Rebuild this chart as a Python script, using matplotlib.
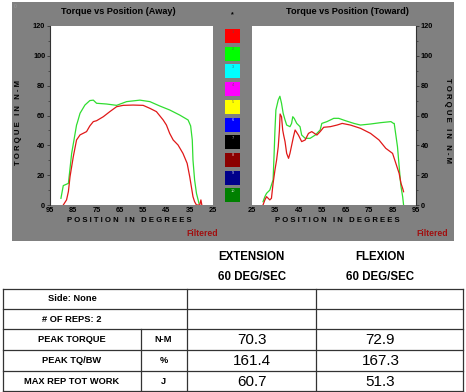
import matplotlib
matplotlib.use("Agg")
import matplotlib.pyplot as plt
from matplotlib.patches import Rectangle

plt.rcParams['font.family'] = ['Liberation Sans', 'DejaVu Sans']

# ---------------- data ----------------
away_green_deg = [90.3, 89.3, 87.1, 85.7, 84.7, 83.6, 83.3, 82.1, 80.0, 77.9, 76.4, 75.0, 70.7, 66.4,
                  62.1, 56.4, 52.1, 47.9, 43.6, 39.3, 35.7, 34.6, 33.9, 33.6, 32.9, 32.1, 31.0]
away_green_trq = [4.5, 13, 14.5, 34.6, 43.6, 53.6, 55, 61.5, 67, 70, 70.3, 68.2, 67.7, 66.8,
                  69.3, 70.3, 69.3, 66.4, 63.7, 60.3, 57, 53, 43.6, 30.2, 16.8, 7.8, 1]
away_red_deg = [89.3, 87.9, 87.1, 86.4, 85.0, 83.6, 82.1, 79.3, 77.9, 76.4, 75.0, 72.1, 69.3, 66.4,
                63.6, 59.3, 55.0, 52.1, 49.3, 46.4, 45.0, 43.6, 42.1, 40.0, 37.9, 36.1, 35.0, 34.3,
                33.6, 32.9, 32.1, 30.7, 30.2, 29.8]
away_red_trq = [0, 3.4, 9, 19, 32.4, 43.6, 47, 49.2, 53, 55.9, 56.5, 59.2, 62.6, 65.9,
                66.8, 67, 66.8, 64.8, 62.6, 57, 53.6, 48, 43.6, 40.2, 34.6, 27.9, 19, 12.3,
                5.6, 2.2, 0, 0, 3.4, 0]

tow_green_deg = [29.7, 30.5, 31.2, 32.6, 34.0, 34.5, 34.8, 35.2, 36.2, 36.9, 37.6, 38.3, 39.1, 39.8,
                 41.2, 41.9, 42.4, 43.0, 44.1, 45.5, 46.2, 47.7, 49.8, 52.0, 54.1, 54.8, 57.0, 59.9,
                 62.0, 64.9, 68.5, 71.3, 75.6, 79.9, 84.3, 85.4, 85.7, 87.1, 88.3, 88.6, 89.3, 89.7]
tow_green_trq = [2.2, 5.6, 7.8, 10, 16.8, 36.9, 50.3, 63.7, 70.4, 72.9, 68.2, 61.5, 57, 53.6,
                 52.5, 54.7, 59.2, 58.1, 54.7, 52.5, 46.9, 44.7, 44.7, 46.9, 50.3, 54.7, 55.9, 58.1,
                 58.1, 56.5, 54.7, 53.6, 54.3, 55.2, 55.9, 54.7, 54.7, 39, 16.8, 12.3, 5.6, 0]
tow_red_deg = [29.7, 30.5, 31.2, 31.9, 32.6, 33.3, 34.0, 34.8, 35.5, 36.2, 36.7, 37.0, 37.6, 38.1,
               38.5, 39.1, 39.8, 40.6, 41.2, 42.7, 43.4, 44.8, 46.2, 47.7, 49.1, 50.5, 52.7, 54.1,
               55.6, 58.4, 61.3, 63.5, 67.0, 71.3, 75.6, 79.2, 82.1, 85.0, 86.4, 87.8, 88.6, 89.3, 89.7]
tow_red_trq = [0, 3.4, 5.6, 4.5, 3.4, 4.5, 14.5, 23.5, 30.2, 39.1, 50, 61, 59.2, 50.3,
               46.9, 42.5, 34.6, 31.3, 34.6, 45.8, 50.3, 46.9, 42.5, 43.6, 48, 49.2, 46.9, 49.2,
               52.1, 52.5, 53.6, 54.7, 53.6, 51.4, 48, 43.6, 38, 34.6, 27.9, 21.2, 14.5, 11.2, 8.9]

x_ticks = [95, 85, 75, 65, 55, 45, 35, 25]
y_ticks = [0, 20, 40, 60, 80, 100, 120]

rep_colors = ['#ff0000', '#00ff00', '#00ffff', '#ff00ff', '#ffff00', '#0000ff',
              '#000000', '#8b0000', '#00008b', '#008000']
rep_labels = ['1', '2', '3', '4', '5', '6', '7', '8', '9', '10']

col_headers = ['EXTENSION', 'FLEXION']
col_speeds = ['60 DEG/SEC', '60 DEG/SEC']
row_labels = ['PEAK TORQUE', 'PEAK TQ/BW', 'MAX REP TOT WORK']
row_units = ['N-M', '%', 'J']
ext_values = ['70.3', '161.4', '60.7']
flex_values = ['72.9', '167.3', '51.3']

# ---------------- figure ----------------
W, H = 466, 392
fig = plt.figure(figsize=(W / 100, H / 100), dpi=100)
bg = fig.add_axes([0, 0, 1, 1])
bg.set_xlim(0, W)
bg.set_ylim(H, 0)
bg.axis('off')
bg.set_zorder(0)

GRAY = '#808080'
bg.add_patch(Rectangle((12, 2), 442, 239, facecolor=GRAY, edgecolor='none'))
bg.text(14, 6, '0', fontsize=3.5, color='#9a9a9a', ha='left', va='center')

# titles
bg.text(118, 11, 'Torque vs Position (Away)', fontsize=6.6, fontweight='bold', ha='center', va='center')
bg.text(347.5, 11, 'Torque vs Position (Toward)', fontsize=6.6, fontweight='bold', ha='center', va='center')
bg.text(232, 15, '*', fontsize=5, fontweight='bold', ha='center', va='center')

def spaced(s):
    return '   '.join(' '.join(w) for w in s.split(' '))

bg.text(19, 122, spaced('TORQUE IN N-M'), rotation=90, fontsize=5.6, fontweight='bold',
        ha='center', va='center')
bg.text(447, 120, spaced('TORQUE IN N-M'), rotation=270, fontsize=5.6, fontweight='bold',
        ha='center', va='center')
bg.text(129, 220, spaced('POSITION IN DEGREES'), fontsize=5.6, fontweight='bold', ha='center', va='center')
bg.text(337.5, 220, spaced('POSITION IN DEGREES'), fontsize=5.6, fontweight='bold', ha='center', va='center')
bg.text(218, 233, 'Filtered', fontsize=6.2, fontweight='bold', color='#a01010', ha='right', va='center')
bg.text(448, 233, 'Filtered', fontsize=6.2, fontweight='bold', color='#a01010', ha='right', va='center')

# rep color boxes
for i, (c, lab) in enumerate(zip(rep_colors, rep_labels)):
    y0 = 29 + i * 17.7
    bg.add_patch(Rectangle((225, y0), 15, 14, facecolor=c, edgecolor='none'))
    tc = '#ffffff' if c in ('#000000', '#8b0000', '#00008b', '#008000', '#0000ff') else '#555555'
    bg.text(232.5, y0 + 2.5, lab, fontsize=2.8, color=tc, alpha=0.8, ha='center', va='center')

# ---------------- plots ----------------
RED = '#e01818'
GREEN = '#30dd30'

def make_ax(left_px, right_px, side):
    ax = fig.add_axes([left_px / W, 1 - 205 / H, (right_px - left_px) / W, (205 - 26) / H])
    ax.set_zorder(2)
    ax.set_facecolor('white')
    ax.set_ylim(0, 120)
    ax.set_yticks(y_ticks)
    ax.set_yticks(list(range(10, 120, 20)), minor=True)
    ax.set_xticks(x_ticks)
    for sp in ax.spines.values():
        sp.set_visible(False)
    ax.spines[side].set_visible(True)
    ax.spines[side].set_color('#333333')
    ax.spines[side].set_linewidth(0.8)
    ax.tick_params(axis='y', which='major', length=2.5, width=0.6, color='#333333',
                   labelsize=5.3, pad=1, left=(side == 'left'), right=(side == 'right'),
                   labelleft=(side == 'left'), labelright=(side == 'right'))
    ax.tick_params(axis='y', which='minor', length=1.5, width=0.5, color='#333333',
                   left=(side == 'left'), right=(side == 'right'))
    ax.tick_params(axis='x', length=0, labelsize=5.3, pad=1.5)
    for lab in ax.get_xticklabels() + ax.get_yticklabels():
        lab.set_fontweight('bold')
    return ax

ax1 = make_ax(50, 213, 'left')
ax1.set_xlim(95, 25)
ax1.plot(away_green_deg, away_green_trq, color=GREEN, lw=0.9)
ax1.plot(away_red_deg, away_red_trq, color=RED, lw=0.9)

ax2 = make_ax(252, 416, 'right')
ax2.set_xlim(25, 95)
ax2.plot(tow_green_deg, tow_green_trq, color=GREEN, lw=0.9)
ax2.plot(tow_red_deg, tow_red_trq, color=RED, lw=0.9)

# ---------------- table ----------------
for cx, hdr, spd in zip([251.7, 380.5], col_headers, col_speeds):
    bg.text(cx, 257, hdr, fontsize=8.3, fontweight='bold', ha='center', va='center')
    bg.text(cx, 277.5, spd, fontsize=8.3, fontweight='bold', ha='center', va='center')

LC = '#333333'
LW = 0.9
rows_y = [288.5, 308.5, 329, 350, 371, 391]
xl, xr = 3, 462.5
for yy in rows_y:
    bg.plot([xl, xr], [yy, yy], color=LC, lw=LW)
for xx in [xl, 186.5, 316, xr]:
    bg.plot([xx, xx], [rows_y[0], rows_y[-1]], color=LC, lw=LW)
bg.plot([141, 141], [rows_y[2], rows_y[-1]], color=LC, lw=LW)

bg.text(72, 298.5, 'Side: None', fontsize=6.7, fontweight='bold', ha='center', va='center')
bg.text(72, 319, '# OF REPS: 2', fontsize=6.7, fontweight='bold', ha='center', va='center')
for i in range(3):
    yc = (rows_y[i + 2] + rows_y[i + 3]) / 2
    bg.text(72, yc, row_labels[i], fontsize=6.7, fontweight='bold', ha='center', va='center')
    bg.text(163.5, yc, row_units[i], fontsize=6.7, fontweight='bold', ha='center', va='center')
    bg.text(251.7, yc + 0.5, ext_values[i], fontsize=11, ha='center', va='center')
    bg.text(380.5, yc + 0.5, flex_values[i], fontsize=11, ha='center', va='center')

fig.savefig('out.png', dpi=100)
